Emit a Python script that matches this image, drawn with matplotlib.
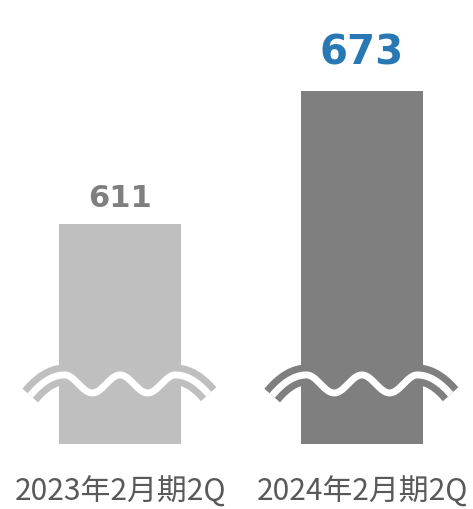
import numpy as np
import matplotlib.pyplot as plt
from matplotlib.font_manager import FontProperties

plt.rcParams['font.family'] = ['Noto Sans CJK JP', 'DejaVu Sans']

periods = ['2023年2月期2Q', '2024年2月期2Q']
values = [611, 673]
bar_colors = ['#BFBFBF', '#7F7F7F']
value_colors = ['#7F7F7F', '#2878B4']
value_sizes = [22, 29]
value_pads = [12, 19]

fig = plt.figure(figsize=(4.73, 5.09), dpi=100)
ax = fig.add_axes([0, 1 - 444 / 509, 1, 444 / 509])

x = np.arange(len(values))
ax.bar(x, values, width=0.504, color=bar_colors, zorder=1)

# y axis is cut: only the top part of each bar is shown
ax.set_ylim(508.4, 715.4)
ax.set_xlim(-0.496, 1.459)

# wavy break marks across both bars, outer ends bend downwards
wave_y = 536.4
amp = 4.2
period = 0.229
for xi, c in zip(x, bar_colors):
    u = np.linspace(-1.62, 1.6, 400)
    d = np.clip(np.abs(u) - 1, 0, None)
    wy = np.where(d > 0, wave_y + amp - 25 * d ** 2, wave_y + amp * np.cos(2 * np.pi * u))
    wx = xi + u * period
    ax.plot(wx, wy, color=c, lw=15, solid_capstyle='butt', zorder=2)
    ax.plot(wx, wy, color='white', lw=5, solid_capstyle='butt', zorder=3)

for xi, v, c, s, p in zip(x, values, value_colors, value_sizes, value_pads):
    fp = FontProperties(family='DejaVu Sans', weight='bold', size=s)
    ax.annotate(f'{v}', (xi, v), xytext=(0, p), textcoords='offset points',
                ha='center', va='baseline', color=c, fontproperties=fp)

ax.set_xticks(x)
ax.set_xticklabels(periods, fontsize=21.5, color='#595959')
ax.tick_params(axis='x', length=0, pad=23)
ax.set_yticks([])
for sp in ax.spines.values():
    sp.set_visible(False)

fig.savefig('out.png', dpi=100)
